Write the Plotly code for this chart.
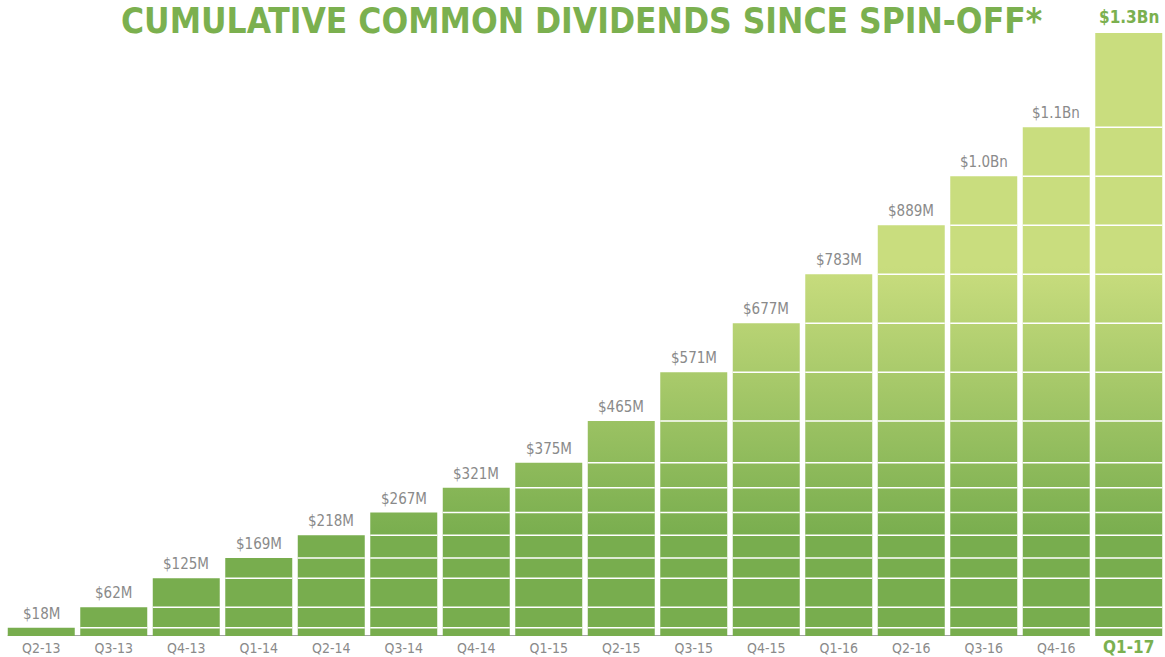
import plotly.graph_objects as go

quarters = ["Q2-13", "Q3-13", "Q4-13", "Q1-14", "Q2-14", "Q3-14", "Q4-14", "Q1-15",
            "Q2-15", "Q3-15", "Q4-15", "Q1-16", "Q2-16", "Q3-16", "Q4-16", "Q1-17"]
cumulative = [18, 62, 125, 169, 218, 267, 321, 375, 465, 571, 677, 783, 889, 995, 1101, 1305]
value_labels = ["$18M", "$62M", "$125M", "$169M", "$218M", "$267M", "$321M", "$375M",
                "$465M", "$571M", "$677M", "$783M", "$889M", "$1.0Bn", "$1.1Bn", "$1.3Bn"]

GREEN = "#7bb04f"
GRAY = "#8a8a8a"
FONT = "DejaVu Sans Condensed, Roboto, sans-serif"
BAR_W = 0.924
n = len(quarters)
last = n - 1

# bar polygons
px, py = [], []
for i, v in enumerate(cumulative):
    x0, x1 = i - BAR_W / 2, i + BAR_W / 2
    px += [x0, x1, x1, x0, x0, None]
    py += [0, 0, v, v, 0, None]

# separator lines (previous cumulative levels)
lx, ly = [], []
for i in range(n):
    x0, x1 = i - BAR_W / 2, i + BAR_W / 2
    for j in range(i):
        lx += [x0, x1, None]
        ly += [cumulative[j], cumulative[j], None]

fig = go.Figure()
fig.add_trace(go.Scatter(
    x=px, y=py, mode="lines", fill="toself", line=dict(width=0),
    fillgradient=dict(type="vertical", start=210, stop=800,
                      colorscale=[[0, "#78ad4e"], [1, "#c9dd7e"]]),
    hoverinfo="skip", showlegend=False))
fig.add_trace(go.Scatter(
    x=lx, y=ly, mode="lines", line=dict(color="white", width=1.5),
    hoverinfo="skip", showlegend=False))

# value labels above bars
for i, (v, t) in enumerate(zip(cumulative, value_labels)):
    is_last = i == last
    fig.add_annotation(
        x=i, y=v, xref="x", yref="y", yanchor="bottom", showarrow=False,
        text=("<b>%s</b>" % t) if is_last else t, yshift=4 if is_last else 3,
        font=dict(family=FONT, size=17 if is_last else 15, color=GREEN if is_last else GRAY))

tick_text = [("<span style='color:%s;font-size:17px'><b>%s</b></span>" % (GREEN, q) if i == last else q)
             for i, q in enumerate(quarters)]

# baseline under all bars except the last
fig.add_shape(type="line", xref="x", yref="y", x0=-BAR_W / 2, x1=last - 1 + BAR_W / 2,
              y0=0, y1=0, line=dict(color="#a3a3a3", width=2), layer="below")

# title
fig.add_annotation(
    text="<b>CUMULATIVE COMMON DIVIDENDS SINCE SPIN-OFF*</b>",
    xref="paper", yref="paper", x=0.497, y=1, xanchor="center", yanchor="middle",
    yshift=-1, showarrow=False, font=dict(family=FONT, size=35, color=GREEN))

fig.update_layout(
    width=1165, height=657,
    margin=dict(l=5, r=0, t=20, b=21),
    paper_bgcolor="white", plot_bgcolor="white",
    xaxis=dict(range=[-0.5, n - 0.5], tickvals=list(range(n)), ticktext=tick_text,
               showgrid=False, zeroline=False, showline=False, ticks="",
               ticklabelstandoff=2,
               tickfont=dict(family=FONT, size=14, color=GRAY), fixedrange=True),
    yaxis=dict(range=[0, 1333], visible=False, fixedrange=True),
)

fig.write_html("out.html", config={"displayModeBar": False},
               post_script="document.body.style.margin='0';document.body.style.overflow='hidden';")
